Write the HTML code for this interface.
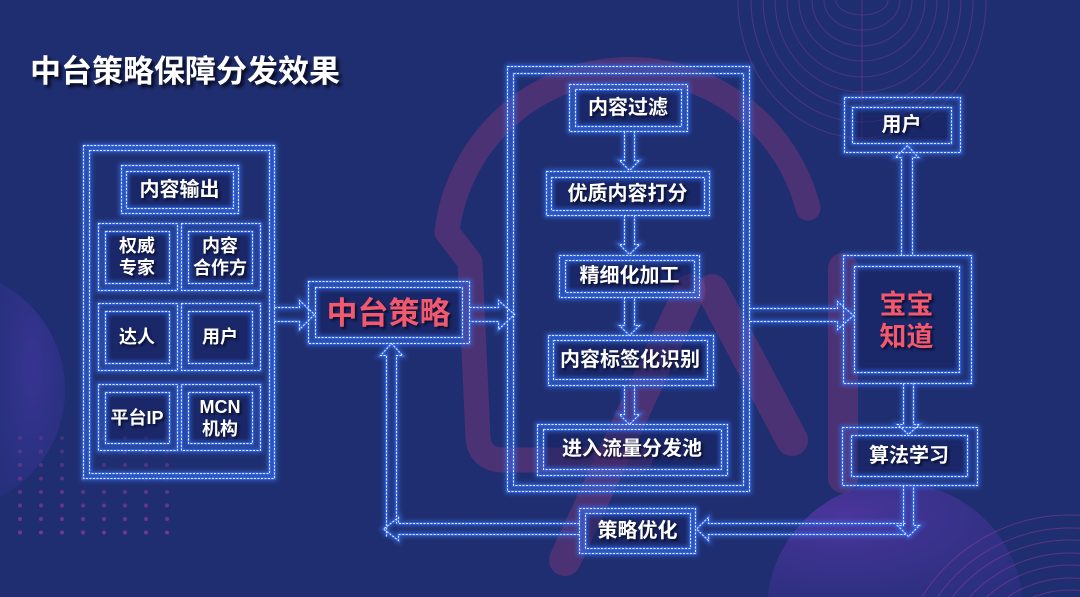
<!DOCTYPE html>
<html style="margin:0;padding:0;width:1080px;height:597px;overflow:hidden;"><head><meta charset="utf-8">
<style>
html,body{margin:0;padding:0;}
body{width:1080px;height:597px;overflow:hidden;background:#1f2e70;position:relative;font-family:"Liberation Sans","Noto Sans CJK SC",sans-serif;}
svg{position:absolute;left:0;top:0;overflow:hidden;}
.t{position:absolute;display:flex;align-items:center;justify-content:center;text-align:center;color:#fff;font-weight:700;font-size:20px;line-height:22px;text-shadow:2px 2px 2px rgba(5,8,30,0.75);white-space:nowrap;}
.s18{font-size:18px;line-height:22px;}
.pink{color:#f2596f;}
.title{position:absolute;left:30px;top:52px;height:40px;line-height:40px;font-size:31px;font-weight:700;color:#fff;text-shadow:3px 3px 3px rgba(0,0,10,0.8);letter-spacing:0px;white-space:nowrap;}
</style></head><body>
<svg width="1080" height="597" viewBox="0 0 1080 597" xmlns="http://www.w3.org/2000/svg">
<defs>
  <radialGradient id="gcR" cx="0.3" cy="0.3" r="0.9">
    <stop offset="0" stop-color="#5a38aa" stop-opacity="0.75"/>
    <stop offset="1" stop-color="#33308a" stop-opacity="0.5"/>
  </radialGradient>
  <radialGradient id="gcL" cx="0.5" cy="0.4" r="0.9">
    <stop offset="0" stop-color="#4236a0" stop-opacity="0.7"/>
    <stop offset="1" stop-color="#2b3186" stop-opacity="0.4"/>
  </radialGradient>
  <pattern id="dots" x="9.5" y="431" width="21" height="13.5" patternUnits="userSpaceOnUse">
    <circle cx="10.5" cy="7" r="2" fill="#a8409f"/>
  </pattern>
  <linearGradient id="dotfade" x1="0" y1="0" x2="0" y2="1">
    <stop offset="0" stop-color="#fff" stop-opacity="0.3"/>
    <stop offset="1" stop-color="#fff" stop-opacity="0.8"/>
  </linearGradient>
  <mask id="dm"><rect x="0" y="425" width="200" height="120" fill="url(#dotfade)"/></mask>
  <filter id="glow" x="-20%" y="-20%" width="140%" height="140%"><feGaussianBlur stdDeviation="2"/></filter>
  <g id="S">
    <rect x="83" y="145" width="191" height="333"/>
    <rect x="89" y="150" width="180" height="323"/>
    <rect x="121" y="165" width="117" height="48"/>
    <rect x="126" y="171" width="107" height="37"/>
    <rect x="98" y="223" width="79" height="67"/>
    <rect x="105" y="231" width="64" height="52"/>
    <rect x="181" y="223" width="79" height="67"/>
    <rect x="188" y="231" width="64" height="52"/>
    <rect x="98" y="303" width="79" height="67"/>
    <rect x="105" y="311" width="64" height="52"/>
    <rect x="181" y="303" width="79" height="67"/>
    <rect x="188" y="311" width="64" height="52"/>
    <rect x="98" y="384" width="79" height="66"/>
    <rect x="105" y="392" width="64" height="51"/>
    <rect x="181" y="384" width="79" height="66"/>
    <rect x="188" y="392" width="64" height="51"/>
    <rect x="308" y="281" width="161" height="62"/>
    <rect x="315" y="287" width="147" height="50"/>
    <rect x="507" y="66" width="242" height="425"/>
    <rect x="513" y="73" width="230" height="412"/>
    <rect x="569" y="84" width="118" height="47"/>
    <rect x="575" y="89" width="106" height="37"/>
    <rect x="546" y="171" width="163" height="44"/>
    <rect x="551" y="177" width="153" height="33"/>
    <rect x="559" y="255" width="140" height="42"/>
    <rect x="565" y="260" width="129" height="32"/>
    <rect x="548" y="335" width="165" height="50"/>
    <rect x="553" y="340" width="154" height="39"/>
    <rect x="537" y="424" width="190" height="51"/>
    <rect x="543" y="429" width="178" height="40"/>
    <rect x="579" y="508" width="116" height="45"/>
    <rect x="585" y="513" width="105" height="35"/>
    <rect x="844" y="97" width="116" height="55"/>
    <rect x="852" y="107" width="99" height="36"/>
    <rect x="843" y="255" width="128" height="128"/>
    <rect x="854" y="266" width="105" height="106"/>
    <rect x="842" y="427" width="135" height="58"/>
    <rect x="851" y="435" width="116" height="41"/>
    <path d="M274 307 H299 V300 L314 314 L299 329 V321 H274"/>
    <path d="M469 307 H498 V300 L514 314 L498 329 V321 H469"/>
    <path d="M749 308 H837 V301 L853 315 L837 329 V321 H749"/>
    <path d="M624 131 V160 H619 L629 170 L639 160 H634 V131"/>
    <path d="M624 215 V244 H619 L629 254 L639 244 H634 V215"/>
    <path d="M624 297 V325 H619 L629 335 L639 325 H634 V297"/>
    <path d="M624 385 V414 H619 L629 424 L639 414 H634 V385"/>
    <path d="M901 255 V157 H895 L907 145 L918 157 H912 V255"/>
    <path d="M903 383 V424 H897 L908 434 L919 424 H913 V383"/>
    <path d="M903 485 V525 H897 L908 536 L919 525 H913 V485"/>
    <path d="M905 523 H708 V517 L696 528.5 L708 540 V534 H905"/>
    <path d="M579 523 H398 V517 L383 528.5 L398 540 V534 H579"/>
    <path d="M386 536 V355 H380 L391 343 L402 355 H396 V523"/>
  </g>
</defs>

<rect width="1080" height="597" fill="#1f2e70"/>

<path d="M0 283.3 A120 120 0 0 1 0 496.7 Z" fill="url(#gcL)"/>
<path d="M767.7 597 A128 128 0 0 1 1022.3 597 Z" fill="url(#gcR)"/>
<rect x="9.5" y="431" width="168" height="108" fill="url(#dots)" mask="url(#dm)" opacity="0.8"/>

<g fill="none" stroke="rgb(165,60,125)" stroke-opacity="0.33" stroke-linecap="round" stroke-linejoin="round">
  <path d="M808 208 A184 184 0 0 0 447 232 L470 262 L478 438 Q480 460 505 460 L640 460" stroke-width="25"/>
  <path d="M690 290 L565 560" stroke-width="32"/>
  <path d="M712 290 L792 440" stroke-width="32"/>
  <path d="M843 268 L843 478" stroke-width="30"/>
</g>

<g fill="none" stroke="rgb(180,70,165)" stroke-opacity="0.3" stroke-width="1">
  <path d="M862 0 V140"/>
  <path d="M836 0 A26 15 0 0 0 888 0"/>
  <path d="M824 0 A38 30 0 0 0 900 0"/>
  <path d="M812 0 A50 46 0 0 0 912 0"/>
  <path d="M799 0 A63 61 0 0 0 925 0"/>
  <path d="M787 0 A75 77 0 0 0 937 0"/>
  <path d="M775 0 A87 92 0 0 0 949 0"/>
  <path d="M763 0 A99 107 0 0 0 961 0"/>
  <path d="M751 0 A111 122 0 0 0 973 0"/>
  <path d="M738 0 A124 138 0 0 0 986 0"/>
</g>
<g fill="none" stroke="rgb(200,70,160)" stroke-opacity="0.35" stroke-width="1">
  <path d="M1033.2 597 A100 100 0 0 1 1080 590.5"/>
  <path d="M1007.6 597 A112 112 0 0 1 1080 578.4"/>
  <path d="M986.5 597 A125 125 0 0 1 1080 565.4"/>
  <path d="M969.4 597 A137 137 0 0 1 1080 553.4"/>
  <path d="M952.3 597 A150 150 0 0 1 1080 540.3"/>
  <path d="M937.4 597 A162 162 0 0 1 1080 528.3"/>
  <path d="M921.8 597 A175 175 0 0 1 1080 515.3"/>
</g>

<g fill="rgba(20,30,92,0.42)">
  <rect x="126" y="171" width="107" height="37"/>
  <rect x="105" y="231" width="64" height="52"/>
  <rect x="188" y="231" width="64" height="52"/>
  <rect x="105" y="311" width="64" height="52"/>
  <rect x="188" y="311" width="64" height="52"/>
  <rect x="105" y="392" width="64" height="51"/>
  <rect x="188" y="392" width="64" height="51"/>
  <rect x="315" y="287" width="147" height="50"/>
  <rect x="575" y="89" width="106" height="37"/>
  <rect x="551" y="177" width="153" height="33"/>
  <rect x="565" y="260" width="129" height="32"/>
  <rect x="553" y="340" width="154" height="39"/>
  <rect x="543" y="429" width="178" height="40"/>
  <rect x="585" y="513" width="105" height="35"/>
  <rect x="852" y="107" width="99" height="36"/>
  <rect x="854" y="266" width="105" height="106"/>
  <rect x="851" y="435" width="116" height="41"/>
</g>

<g transform="translate(0.5,0.5)">
  <use href="#S" fill="none" stroke="#3f80ff" stroke-width="5" opacity="0.5" filter="url(#glow)"/>
  <use href="#S" fill="none" stroke="#3369f2" stroke-width="2.2"/>
  <use href="#S" fill="none" stroke="#e8f0ff" stroke-width="1" stroke-dasharray="2 1.5"/>
</g>
</svg>

<div class="title">中台策略保障分发效果</div>

<div class="t" style="left:126px;top:171px;width:107px;height:37px;">内容输出</div>
<div class="t s18" style="left:105px;top:231px;width:64px;height:52px;">权威<br>专家</div>
<div class="t s18" style="left:188px;top:231px;width:64px;height:52px;">内容<br>合作方</div>
<div class="t s18" style="left:105px;top:311px;width:64px;height:52px;">达人</div>
<div class="t s18" style="left:188px;top:311px;width:64px;height:52px;">用户</div>
<div class="t s18" style="left:103px;top:392px;width:68px;height:51px;">平台IP</div>
<div class="t s18" style="left:188px;top:392px;width:64px;height:51px;">MCN<br>机构</div>

<div class="t pink" style="left:315px;top:289px;width:147px;height:50px;font-size:31px;line-height:34px;">中台策略</div>

<div class="t" style="left:575px;top:89px;width:106px;height:37px;">内容过滤</div>
<div class="t" style="left:551px;top:177px;width:153px;height:33px;">优质内容打分</div>
<div class="t" style="left:565px;top:260px;width:129px;height:32px;">精细化加工</div>
<div class="t" style="left:553px;top:340px;width:154px;height:39px;">内容标签化识别</div>
<div class="t" style="left:543px;top:429px;width:178px;height:40px;">进入流量分发池</div>
<div class="t" style="left:585px;top:513px;width:105px;height:35px;">策略优化</div>

<div class="t" style="left:852px;top:107px;width:99px;height:36px;">用户</div>
<div class="t pink" style="left:854px;top:268px;width:105px;height:106px;font-size:27px;line-height:32px;">宝宝<br>知道</div>
<div class="t" style="left:851px;top:435px;width:116px;height:41px;">算法学习</div>
</body></html>
